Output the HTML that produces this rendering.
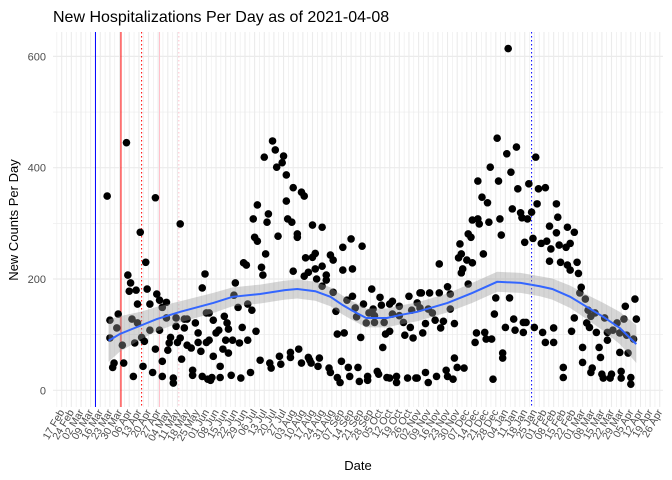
<!DOCTYPE html>
<html><head><meta charset="utf-8"><style>
html,body{margin:0;padding:0;background:#fff;}
svg{display:block;font-family:"Liberation Sans",sans-serif;}
</style></head><body>
<svg id="chart" width="672" height="480" viewBox="0 0 672 480" xmlns="http://www.w3.org/2000/svg">
<text x="53" y="22" font-size="16" fill="#000">New Hospitalizations Per Day as of 2021-04-08</text>
<text transform="translate(18,220) rotate(-90)" text-anchor="middle" font-size="13" fill="#000">New Counts Per Day</text>
<text x="358" y="470" text-anchor="middle" font-size="13" fill="#000">Date</text>
<g id="grid"></g>
<g id="vlines"></g>
<g id="points"></g>
<g id="smooth"></g>
<g id="yaxis"></g>
<g id="xaxis"></g>
</svg>
<script>
const days = [33,47,68,86,57,61,48,50,49,54,62,104,102,69,71,76,55,64,73,35,41,51,55,40,64,71,76,83,89,91,97,105,83,89,35,44,53,60,58,68,79,86,78,84,91,94,99,99,101,105,77,38,37,45,59,52,66,73,73,87,81,81,95,95,102,106,
153,155,147,161,160,156,163,168,174,176,163,142,150,149,139,164,167,182,157,171,171,140,142,148,132,134,145,146,177,182,168,176,179,126,125,128,135,138,107,118,110,120,121,131,141,114,112,107,119,124,129,135,117,121,110,115,109,108,115,123,130,137,144,151,152,158,159,166,166,172,174,179,181,
189,210,204,218,184,195,197,189,184,204,211,192,192,185,189,197,225,211,207,231,240,232,238,252,260,219,213,199,226,223,245,258,254,214,227,240,245,221,227,234,248,253,200,205,217,238,235,249,255,233,180,187,186,194,195,203,208,209,215,200,202,216,222,222,229,230,236,238,243,243,251,257,
316,330,323,311,326,302,317,331,305,309,327,333,334,298,302,303,310,318,295,297,319,336,289,290,288,306,294,298,291,290,274,280,295,261,267,274,282,260,266,269,282,315,325,314,271,277,264,285,275,262,301,307,300,308,312,328,322,329,335,335,320,320,285,287,292,264,279,280,284,272,266,258,313,
324,344,339,346,351,345,359,341,360,338,354,367,372,359,342,348,352,361,366,369,355,354,362,374,367,369,375,377,376,380,416,409,382,387,384,372,408,417,394,403,337,343,357,370,381,383,388,396,400,405,410,349,351,357,396,415,378,390,405,411,391,378,385,384,364,364,392,393,399,398,406,406,413,413];
const counts = [349,445,346,299,284,230,207,193,178,180,182,209,184,173,162,158,155,155,149,126,137,128,121,112,108,108,130,130,128,128,121,139,115,112,94,81,85,88,95,74,95,94,85,86,81,76,103,86,70,86,72,49,41,49,43,25,32,52,25,56,22,13,36,27,25,20,
448,432,419,421,409,401,387,364,356,349,340,333,317,302,308,308,302,297,277,281,275,275,268,245,229,225,221,207,238,239,214,205,212,193,171,149,155,144,139,133,126,121,110,113,106,108,103,90,90,90,85,90,74,67,61,43,23,18,23,27,22,32,54,49,40,61,47,68,59,74,49,59,49,
293,272,257,259,246,243,234,223,218,216,218,207,198,200,187,176,182,169,162,167,160,153,155,169,175,155,148,142,146,139,151,157,144,132,134,137,134,121,122,122,122,113,101,103,95,106,101,99,94,77,54,58,43,40,32,52,41,25,41,23,14,16,25,18,34,29,23,22,25,14,22,22,
453,437,425,401,392,376,376,362,347,337,326,319,310,306,308,299,302,308,281,275,279,266,263,245,238,245,234,229,218,211,227,186,191,175,175,175,173,148,146,139,146,166,166,137,126,124,120,120,112,103,103,104,86,92,92,128,113,108,122,104,67,58,58,41,40,32,36,25,20,25,14,22,20,
614,419,371,362,364,335,335,320,311,308,295,293,284,283,273,264,268,261,257,264,254,232,230,230,225,216,210,185,175,164,164,151,144,139,133,130,128,128,130,121,122,113,112,106,121,113,104,104,108,103,99,104,86,86,90,92,77,77,68,67,59,50,40,32,41,23,29,22,29,22,34,22,23,11];
const smoothDays = [34,42,57,69,86,110,124,144,162,171,184,195,204,211,221,236,245,258,280,298,316,333,347,356,369,381,393,405,417];
const smoothVals = [89,101,116,128,141,157,168,173,180,182,178,168,153,143,130,130,135,141,157,175,195,193,187,182,168,150,132,112,83];
const smoothSE = [38,32,25,22,19,18,17,17,17,17,17,17,17,17,17,17,17,17,17,18,18,18,18,19,20,22,25,29,34];
const eventDays = [24.5,43,58,71,85,341];
const eventColors = ['#0000ff','#ff0000','#ff0000','#ffc0cb','#ffc0cb','#0000ff'];
const eventDashed = [false,false,true,false,true,true];
const yTicks = [0,200,400,600];
const yMinor = [100,300,500];

const NS='http://www.w3.org/2000/svg';
const P={l:53,r:663,t:32,b:407};
const x=d=>61.7+d*1.378;
const y=v=>390.3-v*0.5565;
function mk(tag,parent,attrs){const e=document.createElementNS(NS,tag);for(const k in attrs)e.setAttribute(k,attrs[k]);document.getElementById(parent).appendChild(e);return e;}

for(const v of yMinor){const e=mk('line','grid',{x1:P.l,x2:P.r,y1:y(v),y2:y(v),stroke:'#ebebeb','stroke-width':0.6});

}
for(let d=-3.5;d<=440;d+=7){if(x(d)<P.l||x(d)>P.r)continue;const e=mk('line','grid',{x1:x(d),x2:x(d),y1:P.t,y2:P.b,stroke:'#ebebeb','stroke-width':0.6});

}
for(const v of yTicks){const e=mk('line','grid',{x1:P.l,x2:P.r,y1:y(v),y2:y(v),stroke:'#ebebeb','stroke-width':1.2});


const t=mk('text','yaxis',{x:46,y:y(v)+4,'text-anchor':'end','font-size':11,fill:'#4d4d4d'});t.textContent=v;

}
const months=['Jan','Feb','Mar','Apr','May','Jun','Jul','Aug','Sep','Oct','Nov','Dec'];
const start=Date.UTC(2020,1,17);
for(let d=0;d<=434;d+=7){const X=x(d);
const e=mk('line','grid',{x1:X,x2:X,y1:P.t,y2:P.b,stroke:'#ebebeb','stroke-width':1.1});


const dt=new Date(start+d*86400000);
const lab=String(dt.getUTCDate()).padStart(2,'0')+' '+months[dt.getUTCMonth()];
const t=mk('text','xaxis',{transform:`translate(${X+3},${P.b+5}) rotate(-60)`,'text-anchor':'end','font-size':10.5,fill:'#4d4d4d'});
t.textContent=lab;

}

eventDays.forEach((d,i)=>{const a={x1:x(d),x2:x(d),y1:P.t,y2:P.b,stroke:eventColors[i],'stroke-width':1};
if(eventDashed[i])a['stroke-dasharray']='1.5,2.5';
const e=mk('line','vlines',a);

});

const n=Math.min(days.length,counts.length);
for(let i=0;i<n;i++){const c=mk('circle','points',{cx:x(days[i]),cy:y(counts[i]),r:3.8,fill:'#000'});

}

let up='',dn='',ln='';
smoothDays.forEach((d,i)=>{up+=(i?'L':'M')+x(d)+','+y(smoothVals[i]+smoothSE[i]);ln+=(i?'L':'M')+x(d)+','+y(smoothVals[i]);});
for(let i=smoothDays.length-1;i>=0;i--)dn+='L'+x(smoothDays[i])+','+y(smoothVals[i]-smoothSE[i]);
const band=mk('path','smooth',{d:up+dn+'Z',fill:'#999999','fill-opacity':0.4});


const line=mk('path','smooth',{d:ln,fill:'none',stroke:'#3366ff','stroke-width':2});


</script>
</body></html>
